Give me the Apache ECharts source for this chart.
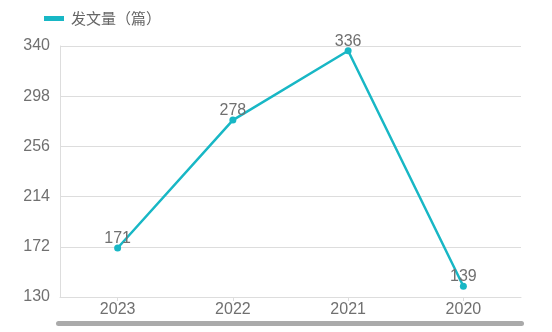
<!DOCTYPE html>
<html><head><meta charset="utf-8">
<script src="https://cdn.jsdelivr.net/npm/echarts@6/dist/echarts.min.js"></script>
<style>html,body{margin:0;padding:0;background:#fff}#c{width:552px;height:332px}</style>
</head><body><div id="c"></div>
<script>
const categories = ['2023', '2022', '2021', '2020'];
const values = [171, 278, 336, 139];
const seriesName = '发文量（篇）';
const yMin = 130, yMax = 340, yInterval = 42;

const chart = echarts.init(document.getElementById('c'), null, {renderer: 'canvas'});
chart.setOption({
  animation: false,
  textStyle: {fontFamily: 'Liberation Sans, Arial, sans-serif'},
  legend: {
    left: 39, top: 6, itemWidth: 20, itemHeight: 5, itemGap: 10,
    textStyle: {color: '#666', fontSize: 15, fontFamily: 'Noto Sans CJK SC', padding: [0, 0, 0, 2]},
    data: [{name: seriesName, icon: 'rect'}]
  },
  grid: {left: 60, right: 31, top: 46, bottom: 35},
  xAxis: {
    type: 'category', data: categories, boundaryGap: true,
    axisLine: {lineStyle: {color: '#ddd'}},
    axisTick: {show: true, alignWithLabel: true, length: 4, lineStyle: {color: '#ddd'}},
    axisLabel: {color: '#707070', fontSize: 16, margin: 5}
  },
  yAxis: {
    type: 'value', min: yMin, max: yMax, interval: yInterval,
    axisLine: {show: true, lineStyle: {color: '#ddd'}},
    axisTick: {show: false},
    splitLine: {lineStyle: {color: '#ddd'}},
    axisLabel: {color: '#707070', fontSize: 16, margin: 10}
  },
  series: [{
    name: seriesName, type: 'line', data: values,
    color: '#18b7c5',
    symbol: 'circle', symbolSize: 7,
    lineStyle: {width: 2.5, color: '#18b7c5'},
    itemStyle: {color: '#18b7c5'},
    label: {show: true, position: 'top', color: '#707070', fontSize: 16, distance: -2}
  }],
  graphic: [{
    type: 'rect', left: 56, top: 321,
    shape: {width: 468, height: 5, r: 2.5},
    style: {fill: '#aaa'}
  }]
});
</script></body></html>
